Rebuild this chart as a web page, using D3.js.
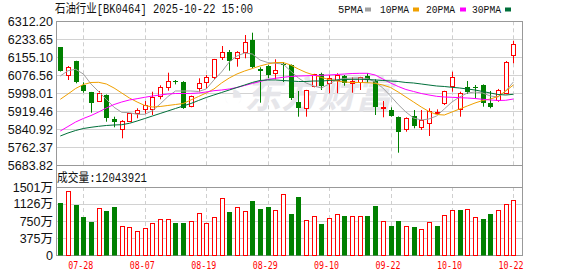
<!DOCTYPE html>
<html><head><meta charset="utf-8">
<script src="https://cdn.jsdelivr.net/npm/d3@7/dist/d3.min.js"></script>
<style>html,body{margin:0;padding:0;background:#fff;}svg{display:block;}</style>
</head><body><div id="chart"></div>
<script>
const dates = ["07-23","07-24","07-25","07-28","07-29","07-30","07-31","08-01","08-04","08-05","08-06","08-07","08-08","08-11","08-12","08-13","08-14","08-15","08-18","08-19","08-20","08-21","08-22","08-25","08-26","08-27","08-28","08-29","09-01","09-02","09-03","09-04","09-05","09-08","09-09","09-10","09-11","09-12","09-15","09-16","09-17","09-18","09-19","09-22","09-23","09-24","09-25","09-26","09-29","09-30","10-09","10-10","10-13","10-14","10-15","10-16","10-17","10-20","10-21","10-22"];
const open  = [6198.7,6077.9,6137.7,6034.2,6002.4,5963.1,5990.6,5884.6,5841.0,5878.4,5910.7,5928.2,5930.8,5986.2,6026.8,6051.7,6048.6,5942.6,6022.5,6048.6,6070.4,6155.1,6178.2,6150.7,6179.5,6230.6,6104.0,6118.5,6087.9,6123.7,6121.5,5961.4,5932.6,6029.9,6082.2,6044.3,6056.0,6073.5,6041.6,6048.6,6073.5,6053.0,5935.2,5925.1,5895.9,5841.0,5899.0,5852.3,5869.7,5913.4,5954.4,6031.2,5928.2,6024.2,6024.2,6034.2,5957.0,5968.8,6000.6,6165.1];
const high  = [6200.0,6117.0,6140.0,6046.0,6004.0,6008.1,5993.0,5895.9,5881.0,5912.0,5932.6,5964.4,6005.0,6033.0,6087.9,6056.0,6051.0,5988.0,6063.5,6077.9,6148.0,6204.4,6187.0,6182.0,6252.4,6262.5,6111.5,6121.0,6146.4,6134.6,6124.0,6008.1,6013.0,6083.0,6087.9,6077.9,6085.3,6077.9,6067.8,6070.0,6085.3,6059.1,5964.4,5936.9,5897.0,5893.0,5925.1,5925.1,5932.6,5928.0,6009.0,6092.3,6005.0,6051.7,6034.2,6037.0,6008.1,6017.0,6139.0,6227.5];
const low   = [6093.0,6056.0,6041.6,6000.6,5913.4,5961.0,5874.1,5849.6,5801.6,5874.0,5888.9,5907.7,5903.3,5972.0,6009.4,6037.0,5930.0,5937.0,6005.0,6016.8,6059.1,6143.3,6096.6,6114.1,6150.7,6107.1,5957.0,6063.5,6059.1,6047.3,5968.8,5895.9,5895.9,6024.0,6012.4,5998.0,5998.0,6031.2,6000.6,6012.4,6044.3,5903.3,5893.3,5895.9,5738.8,5830.4,5845.3,5837.9,5811.7,5906.0,5947.0,6005.0,5895.9,5995.0,5976.2,5939.5,5932.6,5961.0,5995.0,6128.9];
const close = [6095.3,6114.1,6047.3,6009.4,5954.4,5998.0,5888.9,5872.0,5876.0,5910.7,5925.1,5945.7,5980.6,6024.2,6051.7,6046.0,5932.6,5986.2,6041.6,6067.8,6146.4,6176.9,6139.0,6179.5,6223.2,6114.1,6096.6,6077.9,6099.7,6121.5,5976.2,5932.6,6012.4,6080.9,6029.9,6063.5,6077.9,6044.3,6053.0,6067.8,6056.0,5936.9,5938.2,5900.3,5830.4,5891.5,5855.3,5881.5,5922.1,5916.4,6008.1,6067.8,6000.6,6003.0,6021.1,5954.4,5936.9,6012.4,6133.3,6213.1];
const prevClose = 6150.0;
// volume in 万
const volume = [1141,1413,1104,832,722,1031,971,1053,633,611,523,589,700,795,795,706,706,740,934,700,832,1251,942,1053,964,1192,1015,1053,986,1339,905,1280,766,854,677,810,898,854,854,854,854,1082,744,640,750,633,618,567,722,640,876,986,993,1008,832,795,905,986,1119,1204.3921];
const ma5  = [6073.5,6096.6,6102.7,6082.2,6038.6,6005.0,5971.8,5936.9,5915.1,5913.4,5906.4,5906.4,5922.1,5951.3,5983.2,6008.1,6008.1,6008.1,6005.9,6016.8,6056.1,6091.0,6134.6,6160.8,6173.9,6169.5,6143.3,6132.4,6128.9,6125.9,6095.3,6064.8,6043.0,6029.9,6021.1,6038.6,6056.1,6062.6,6064.8,6064.8,6062.6,6047.3,6021.1,5986.2,5949.1,5916.4,5890.2,5881.5,5885.9,5899.0,5929.5,5960.1,5981.9,5999.3,6003.7,5999.3,5986.2,5981.9,6008.1,6047.3];
const ma10 = [5971.8,5995.0,6019.0,6036.4,6045.2,6045.9,6038.6,6021.1,5999.3,5977.5,5960.1,5944.8,5938.2,5940.4,5944.8,5949.1,5953.5,5968.8,5984.0,5999.3,6016.8,6043.0,6064.8,6082.2,6095.3,6106.2,6117.2,6125.9,6132.4,6132.4,6121.5,6104.1,6088.8,6077.9,6067.0,6058.2,6051.7,6047.3,6045.2,6045.2,6044.3,6041.6,6034.2,6023.3,6003.7,5981.9,5960.1,5938.2,5918.6,5905.5,5903.3,5916.4,5929.5,5942.6,5955.7,5966.6,5973.1,5984.0,6008.1,6034.2];
const ma20 = [5833.5,5853.1,5872.8,5888.0,5901.1,5916.4,5933.9,5949.1,5960.1,5968.8,5974.5,5980.6,5986.2,5990.6,5995.0,5997.2,5997.2,5997.2,5999.3,6003.7,6009.4,6012.4,6016.8,6023.3,6032.1,6040.8,6049.5,6058.2,6063.5,6067.8,6071.3,6073.5,6074.4,6075.7,6076.6,6077.9,6080.1,6082.2,6084.4,6085.3,6085.3,6077.9,6060.4,6043.0,6027.7,6014.6,6005.9,5997.2,5990.6,5984.9,5981.9,5980.6,5978.8,5977.5,5975.3,5971.8,5968.8,5966.6,5967.5,5973.1];
const ma30 = [5811.7,5824.8,5835.7,5844.4,5849.7,5854.0,5857.5,5859.7,5861.0,5867.1,5877.1,5888.0,5899.0,5909.9,5920.8,5931.7,5942.6,5953.5,5966.6,5979.7,5990.6,6001.5,6012.4,6023.3,6034.2,6045.2,6053.9,6056.1,6056.1,6053.9,6051.7,6049.5,6049.5,6051.7,6051.7,6053.9,6056.1,6058.2,6059.1,6059.1,6058.2,6056.1,6053.9,6051.7,6049.5,6045.2,6043.0,6038.6,6034.2,6029.9,6027.7,6024.2,6021.1,6016.8,6012.4,6005.9,5999.3,5992.8,5990.6,5993.7];
const priceTicks = [5683.82,5762.37,5840.92,5919.46,5998.01,6076.56,6155.10,6233.65,6312.20];
const volTicks = [0,375,750,1126,1501];
const volTickLabels = ["0","375万","750万","1126万","1501万"];
const tickDates = ["07-28","08-07","08-19","08-29","09-10","09-22","10-10","10-22"];
const maNames = ["5PMA","10PMA","20PMA","30PMA"];
const maColors = ["#a0a0a0","#f0a000","#ff00ff","#006f3a"];

const W = 578, H = 276;
const L = 56, R = 522, PT = 21.3, PB = 165.3, VT = 187, VB = 255;
const RED = "#ff0000", GREEN = "#008000";
const svg = d3.select("#chart").append("svg").attr("width", W).attr("height", H);
svg.append("rect").attr("width", W).attr("height", H).attr("fill", "#fff");

const x = d3.scalePoint().domain(dates).range([60.3, 513.4]);
const y = d3.scaleLinear().domain([priceTicks[0], priceTicks[priceTicks.length-1]]).range([PB, PT]);
const yv = d3.scaleLinear().domain([0, 1501]).range([VB, VT]);
const px = v => Math.round(v) + 0.5;

// grid
const g = svg.append("g");
priceTicks.slice(1, -1).forEach(t => {
  g.append("line").attr("x1", L).attr("x2", R).attr("y1", px(y(t))).attr("y2", px(y(t))).attr("stroke", "#d2d2d2");
});
volTicks.slice(1, -1).forEach(t => {
  g.append("line").attr("x1", L).attr("x2", R).attr("y1", px(yv(t))).attr("y2", px(yv(t))).attr("stroke", "#d2d2d2");
});
tickDates.forEach(d => {
  const xx = px(x(d));
  g.append("line").attr("x1", xx).attr("x2", xx).attr("y1", PT).attr("y2", PB).attr("stroke", "#cfcfcf").attr("stroke-dasharray", "4,3");
  g.append("line").attr("x1", xx).attr("x2", xx).attr("y1", VT).attr("y2", VB).attr("stroke", "#cfcfcf").attr("stroke-dasharray", "4,3");
});

// watermark
svg.append("text").attr("x", 222).attr("y", 108).attr("font-family", "Noto Sans CJK SC").attr("font-size", 37)
  .attr("font-weight", "bold").attr("font-style", "italic").attr("fill", "#e6e6ea").text("◔东方财富");

// frame
const fr = svg.append("g").attr("fill", "none").attr("stroke", "#999");
fr.append("line").attr("x1", L).attr("x2", R).attr("y1", 21.5).attr("y2", 21.5);
fr.append("line").attr("x1", L).attr("x2", R).attr("y1", 165.5).attr("y2", 165.5);
fr.append("line").attr("x1", L).attr("x2", R).attr("y1", 187.5).attr("y2", 187.5);
fr.append("line").attr("x1", L).attr("x2", R).attr("y1", 255.5).attr("y2", 255.5);
fr.append("line").attr("x1", L + 0.5).attr("x2", L + 0.5).attr("y1", 21).attr("y2", 256);
fr.append("line").attr("x1", R + 0.5).attr("x2", R + 0.5).attr("y1", 21).attr("y2", 256);

// candles
const cg = svg.append("g");
dates.forEach((d, i) => {
  const cx = Math.round(x(d));
  const up = close[i] >= open[i];
  const col = up ? RED : GREEN;
  const yTop = y(Math.max(open[i], close[i])), yBot = y(Math.min(open[i], close[i]));
  cg.append("line").attr("x1", cx + 0.5).attr("x2", cx + 0.5).attr("y1", y(high[i])).attr("y2", y(low[i])).attr("stroke", col);
  if (up) {
    cg.append("rect").attr("x", cx - 1.5).attr("y", Math.round(yTop) + 0.5).attr("width", 4)
      .attr("height", Math.max(1, Math.round(yBot) - Math.round(yTop))).attr("fill", "#fff").attr("stroke", col);
  } else {
    cg.append("rect").attr("x", cx - 2).attr("y", Math.round(yTop)).attr("width", 5)
      .attr("height", Math.max(1, Math.round(yBot) - Math.round(yTop))).attr("fill", col);
  }
  // volume
  const pc = i === 0 ? prevClose : close[i - 1];
  const vup = close[i] >= pc;
  const vy = Math.round(yv(volume[i]));
  if (vup) {
    cg.append("rect").attr("x", cx - 1.5).attr("y", vy + 0.5).attr("width", 4).attr("height", VB - vy)
      .attr("fill", "#fff").attr("stroke", RED);
  } else {
    cg.append("rect").attr("x", cx - 2).attr("y", vy).attr("width", 5).attr("height", VB - vy + 0.5).attr("fill", GREEN);
  }
});

// MA lines
const line = d3.line().x((d, i) => x(dates[i])).y(d => y(d));
[ma5, ma10, ma20, ma30].forEach((s, k) => {
  svg.append("path").attr("d", line(s)).attr("fill", "none").attr("stroke", maColors[k]).attr("stroke-width", 1);
});

// axes labels
const yAxis = d3.axisLeft(y).tickValues(priceTicks).tickFormat(d3.format(".2f")).tickSize(0).tickPadding(3);
const ya = svg.append("g").attr("transform", `translate(${L},0)`).call(yAxis);
ya.select(".domain").remove();
ya.selectAll("text").attr("font-family", "Liberation Sans, Arial").attr("font-size", 12.5).attr("fill", "#111");
const vAxis = d3.axisLeft(yv).tickValues(volTicks).tickFormat((d, i) => volTickLabels[i]).tickSize(0).tickPadding(3);
const va = svg.append("g").attr("transform", `translate(${L},0)`).call(vAxis);
va.select(".domain").remove();
va.selectAll("text").attr("font-family", "Liberation Sans, Arial, Noto Sans CJK SC").attr("font-size", 12.5).attr("fill", "#111");

const xAxis = d3.axisBottom(x).tickValues(tickDates).tickSize(0).tickPadding(0);
const xa = svg.append("g").attr("transform", `translate(0,${VB})`).call(xAxis);
xa.select(".domain").remove();
xa.selectAll("text").attr("font-family", "DejaVu Sans Mono").attr("font-size", 10.5).attr("fill", RED)
  .attr("dy", null).attr("y", 14).attr("dx", -3).attr("textLength", 25).attr("lengthAdjust", "spacingAndGlyphs");

// title
svg.append("text").attr("x", 55).attr("y", 12.5).attr("font-family", "Liberation Mono, Noto Sans CJK SC").attr("font-size", 12.5)
  .attr("fill", "#111").attr("textLength", 198).attr("lengthAdjust", "spacingAndGlyphs").text("石油行业[BK0464] 2025-10-22 15:00");

// legend
const legX = [338, 380, 426, 472], legW = [25, 29, 29, 29], sqX = [365, 413, 460, 505];
maNames.forEach((n, k) => {
  svg.append("text").attr("x", legX[k]).attr("y", 12.5).attr("font-family", "Liberation Mono").attr("font-size", 11)
    .attr("fill", "#111").attr("textLength", legW[k]).attr("lengthAdjust", "spacingAndGlyphs").text(n);
  svg.append("rect").attr("x", sqX[k]).attr("y", 7.5).attr("width", 6).attr("height", 4).attr("fill", maColors[k]);
});

// volume label
svg.append("text").attr("x", 57).attr("y", 182).attr("font-family", "Liberation Mono, Noto Sans CJK SC").attr("font-size", 12.5)
  .attr("fill", "#111").attr("textLength", 90).attr("lengthAdjust", "spacingAndGlyphs").text("成交量:12043921");
</script>
</body></html>
